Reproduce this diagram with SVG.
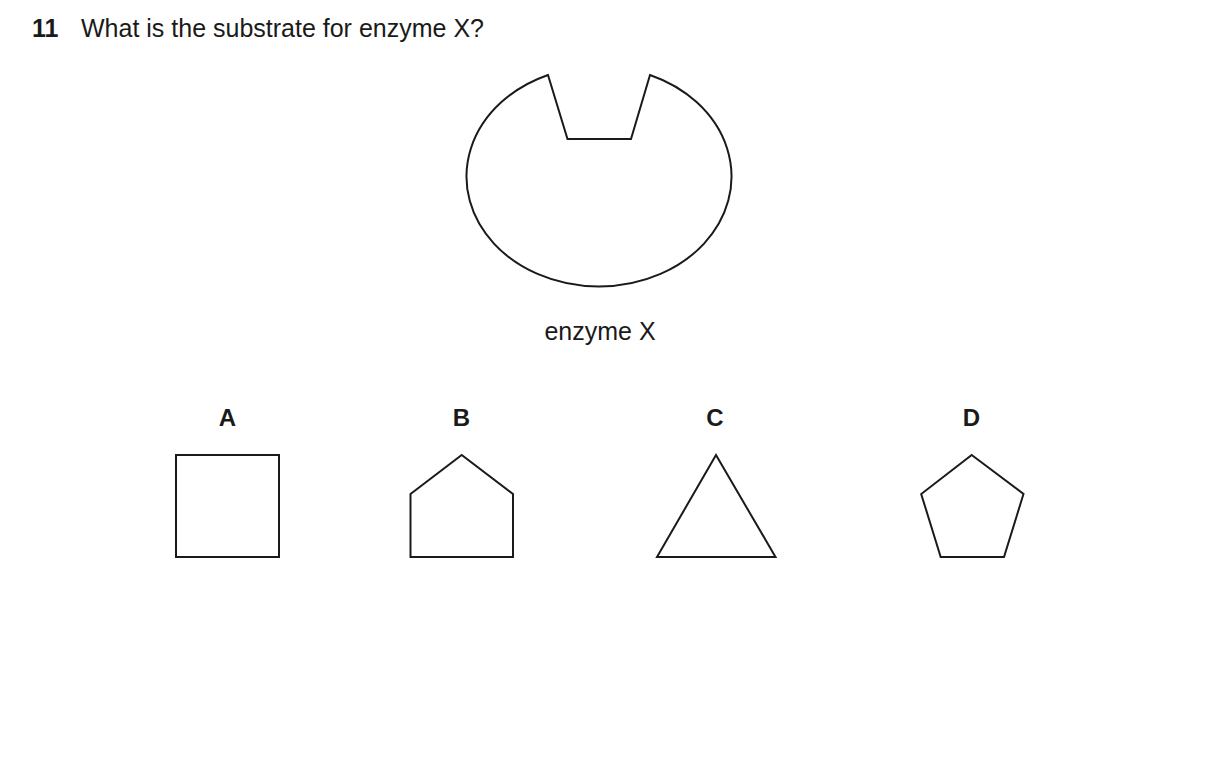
<svg xmlns="http://www.w3.org/2000/svg" width="1209" height="771" viewBox="0 0 1209 771">
<style>
.s{fill:none;stroke:#1a1a1a;stroke-width:2;stroke-linejoin:miter}
.t{font-family:"Liberation Sans",Arial,sans-serif;font-size:25px;fill:#1a1a1a}
.b{font-weight:bold}
.l{font-size:24px}
</style>
<rect width="1209" height="771" fill="#fff"/>
<text class="t b" x="32" y="37">11</text>
<text class="t" x="81" y="37">What is the substrate for enzyme X?</text>
<g id="enzyme">
<path class="s" d="M548,75 L567.5,139 L631,139 L650,75 A132.5,110 0 1 1 548,75 Z"/>
<text class="t" x="600" y="340" text-anchor="middle">enzyme X</text>
</g>
<g id="A">
<text class="t b l" x="227.5" y="426" text-anchor="middle">A</text>
<rect class="s" x="176" y="455" width="103" height="102"/>
</g>
<g id="B">
<text class="t b l" x="461.5" y="426" text-anchor="middle">B</text>
<polygon class="s" points="410.5,494 461.7,455 513,494 513,557 410.5,557"/>
</g>
<g id="C">
<text class="t b l" x="715" y="426" text-anchor="middle">C</text>
<polygon class="s" points="716,455 775.5,557 657,557"/>
</g>
<g id="D">
<text class="t b l" x="971.5" y="426" text-anchor="middle">D</text>
<polygon class="s" points="971.7,455 1023.5,494 1004,557 940.7,557 921.2,494"/>
</g>
</svg>
